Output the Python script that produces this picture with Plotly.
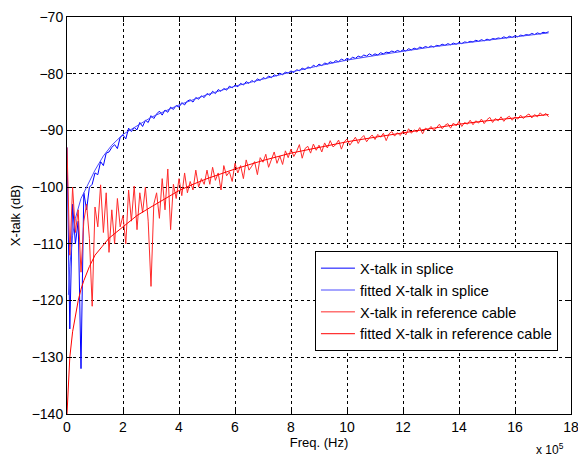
import plotly.graph_objects as go

# Frequency sampling step (Hz) for the measured series
STEP = 1e4

# Measured X-talk in splice (dB), one value per 10 kHz from 0 Hz
splice_db = [
    -93, -125, -103, -110, -106, -132, -101, -104, -100, -99.5,
    -97.5, -97.8, -95.5, -96.2, -94.0, -93.8, -93.0, -92.5, -93.2, -91.2,
    -90.8, -91.5, -89.6, -90.2, -89.5, -89.9, -88.6, -89.3, -88.2, -88.6,
    -87.4, -87.9, -87.1, -86.6, -87.3, -86.4, -86.8, -85.9, -86.3, -85.6,
    -85.9, -85.1, -85.5, -84.8, -84.6, -85.0, -84.2, -84.5, -83.9, -84.2,
    -83.5, -83.8, -83.1, -83.5, -82.8, -83.1, -82.6, -82.9, -82.2, -82.5,
    -82.0, -82.3, -81.7, -82.0, -81.4, -81.7, -81.2, -81.5, -80.9, -81.2,
    -80.7, -80.9, -80.4, -80.7, -80.2, -80.4, -79.9, -80.2, -79.7, -79.9,
    -79.5, -79.8, -79.3, -79.5, -79.0, -79.3, -78.8, -79.0, -78.5, -78.8,
    -78.3, -78.6, -78.1, -78.3, -77.9, -78.1, -77.7, -77.9, -77.4, -77.7,
    -77.3, -77.5, -77.1, -77.3, -76.9, -77.1, -76.7, -76.9, -76.5, -76.8,
    -76.5, -76.7, -76.3, -76.5, -76.2, -76.3, -76.0, -76.2, -75.9, -76.1,
    -75.8, -76.0, -75.6, -75.8, -75.5, -75.7, -75.3, -75.5, -75.2, -75.4,
    -75.1, -75.3, -75.0, -75.1, -74.8, -75.0, -74.7, -74.9, -74.6, -74.8,
    -74.5, -74.7, -74.4, -74.5, -74.3, -74.4, -74.1, -74.3, -74.0, -74.2,
    -73.9, -74.1, -73.8, -73.9, -73.7, -73.8, -73.5, -73.7, -73.4, -73.6,
    -73.3, -73.5, -73.2, -73.3, -73.1, -73.2, -72.9, -73.1, -72.8, -73.0,
    -72.7, -72.8, -72.6,
]

# Measured X-talk in reference cable (dB), one value per 10 kHz from 0 Hz
ref_db = [
    -93, -112, -100, -108, -104, -115, -106, -103, -109, -121,
    -103.5, -107, -99.6, -108, -101, -111.5, -104, -110, -102, -107,
    -105, -110, -100.5, -106, -99.8, -107.5, -101, -104.5, -100, -106,
    -117.5, -103, -101, -105.5, -98.5, -104, -96.8, -107.5, -99.5, -102,
    -98.5, -101.5, -97.5, -101, -99, -100.5, -97, -100, -98.5, -99.5,
    -97, -99.5, -96.5, -98.8, -97.5, -100.5, -96.2, -98, -97.3, -99,
    -95.8, -97.5, -96.2, -98.5, -95.2, -97, -96.3, -95.5, -97.8, -94.8,
    -95.6, -94.2, -96.5, -95, -93.8, -95.8, -94.5, -96, -93.6, -94.8,
    -93.3, -94.6, -93.7, -92.5, -94.9, -93.2, -92.8, -94, -92.4, -93.5,
    -92.6, -93.8, -92.2, -93.1, -91.8, -92.9, -92.5, -91.7, -93.3, -92,
    -91.5, -92.6, -91.9, -91.2, -92.3, -91.4, -90.9, -92, -91.3, -90.8,
    -91.6, -90.7, -91.2, -90.5, -91.8, -90.6, -90.2, -91, -90.4, -90.9,
    -90.1, -90.8, -89.7, -90.5, -89.9, -90.3, -89.5, -90.6, -89.6, -89.9,
    -89.3, -90, -89.5, -88.9, -89.7, -89.1, -88.8, -89.6, -88.7, -89.2,
    -88.4, -89.3, -88.6, -88.9, -88.2, -89, -88.3, -88.7, -88, -88.8,
    -88.1, -87.7, -88.6, -87.9, -88.3, -87.6, -88.4, -87.8, -87.5, -88.2,
    -87.6, -88, -87.3, -87.9, -87.4, -87.1, -87.8, -87.2, -87.6, -86.9,
    -87.4, -87.0, -87.6,
]

# Fitted curves: frequency (Hz) and dB
fit_splice_freq = [5e3, 1e4, 2e4, 3e4, 5e4, 7.5e4, 1e5, 1.3e5, 1.6e5, 2e5, 3e5, 4e5, 5e5,
                   6e5, 7e5, 8e5, 9e5, 1e6, 1.1e6, 1.2e6, 1.3e6, 1.4e6, 1.5e6,
                   1.6e6, 1.7e6, 1.72e6]
fit_splice_db = [-119, -114, -108.5, -105.5, -102, -99.5, -97.0, -94.5, -92.6, -90.7, -87.7,
                 -85.5, -83.7, -82.2, -80.9, -79.7, -78.6, -77.6, -76.8, -76.0,
                 -75.3, -74.7, -74.1, -73.5, -72.95, -72.8]

fit_ref_freq = [0, 5e3, 1e4, 2e4, 3e4, 4e4, 5e4, 6e4, 8e4, 1e5, 1.25e5, 1.5e5, 1.75e5,
                2e5, 2.5e5, 3e5, 3.5e5, 4e5, 4.5e5, 5e5, 6e5, 7e5, 8e5, 9e5, 1e6,
                1.1e6, 1.2e6, 1.3e6, 1.4e6, 1.5e6, 1.6e6, 1.72e6]
fit_ref_db = [-140, -134, -130, -125.5, -122.5, -120, -118, -116.5, -114, -112,
              -110.5, -109, -108, -107, -105, -103.5, -102, -100.6, -99.5, -98.5,
              -96.8, -95.3, -94, -93, -92, -91.2, -90.4, -89.6, -88.9, -88.3,
              -87.8, -87.2]

x_tick_vals = [0, 2e5, 4e5, 6e5, 8e5, 10e5, 12e5, 14e5, 16e5, 18e5]
x_tick_text = ["0", "2", "4", "6", "8", "10", "12", "14", "16", "18"]
y_tick_vals = [-140, -130, -120, -110, -100, -90, -80, -70]

names = ["X-talk in splice", "fitted X-talk in splice",
         "X-talk in reference cable", "fitted X-talk in reference cable"]

splice_freq = [i * STEP for i in range(len(splice_db))]
ref_freq = [i * STEP for i in range(len(ref_db))]

FONT = "Liberation Sans, Arial, sans-serif"

fig = go.Figure()
fig.add_trace(go.Scatter(x=splice_freq, y=splice_db, mode="lines", name=names[0],
                         line=dict(color="#0000ff", width=1)))
fig.add_trace(go.Scatter(x=fit_splice_freq, y=fit_splice_db, mode="lines", name=names[1],
                         line=dict(color="#4a4aff", width=1)))
fig.add_trace(go.Scatter(x=ref_freq, y=ref_db, mode="lines", name=names[2],
                         line=dict(color="#ff2a2a", width=1)))
fig.add_trace(go.Scatter(x=fit_ref_freq, y=fit_ref_db, mode="lines", name=names[3],
                         line=dict(color="#ff0000", width=1)))

axis_common = dict(
    showline=True, linecolor="black", linewidth=1, mirror="ticks",
    ticks="inside", ticklen=5, tickcolor="black", automargin=False,
    showgrid=True, gridcolor="black", gridwidth=1, griddash="3px,3px",
    zeroline=False, tickfont=dict(family=FONT, size=14, color="black"),
)

fig.update_layout(
    width=578, height=459,
    margin=dict(l=67, r=7, t=17, b=45),
    paper_bgcolor="white", plot_bgcolor="white",
    font=dict(family=FONT, size=13, color="black"),
    xaxis=dict(range=[0, 1800001], tickvals=x_tick_vals, ticktext=x_tick_text,
               ticklabeloverflow="allow",
               title=dict(text="Freq. (Hz)", standoff=2, font=dict(size=13)), **axis_common),
    yaxis=dict(range=[-140, -70], tickvals=y_tick_vals,
               title=dict(text="X-talk (dB)", standoff=8, font=dict(size=13)), **axis_common),
    legend=dict(x=0.492, y=0.41, xanchor="left", yanchor="top",
                bgcolor="white", bordercolor="black", borderwidth=1,
                font=dict(family=FONT, size=14.5), itemwidth=34, tracegroupgap=0),
    showlegend=True,
    annotations=[dict(text="x 10<sup>5</sup>", xref="paper", yref="paper",
                      x=0.99, y=-0.062, xanchor="right", yanchor="top",
                      showarrow=False, font=dict(family=FONT, size=12))],
)

# Remove the page's default body margin so the figure fills the window exactly
fig.write_html(
    "out.html",
    config={"displayModeBar": False},
    post_script="document.body.style.margin='0';document.body.style.overflow='hidden';",
)
